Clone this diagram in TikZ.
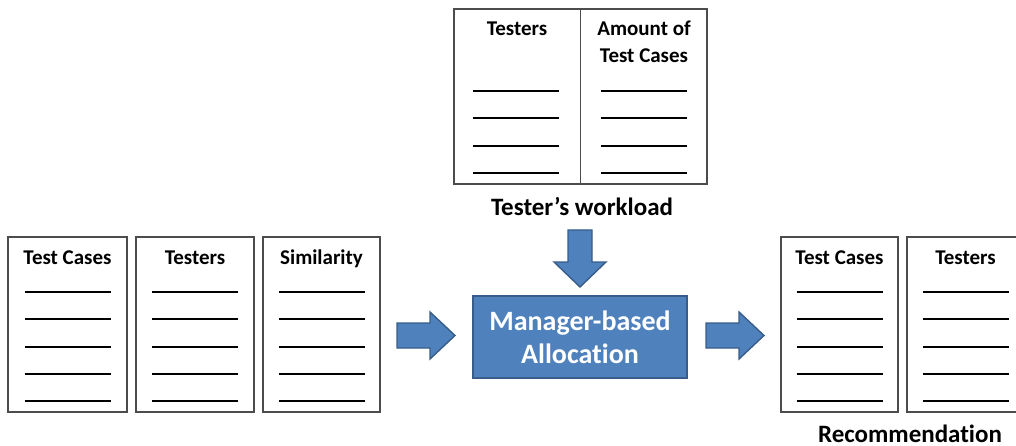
\documentclass[tikz,border=0pt]{standalone}
\usepackage{fontspec}
\setmainfont{Carlito}[Ligatures=NoCommon]
\definecolor{blockfill}{HTML}{4F81BD}
\definecolor{blockedge}{HTML}{385D8A}
\begin{document}
\begin{tikzpicture}[x=1pt,y=-1pt,
  sheet/.style={draw=black!70, line width=1.1pt, fill=white, inner sep=0pt, outer sep=0pt},
  head/.style={font=\bfseries\fontsize{21}{25}\selectfont, anchor=base, inner sep=0pt},
  caption/.style={font=\bfseries\fontsize{25}{30}\selectfont, anchor=base, inner sep=0pt},
  entry/.style={line width=1.8pt, black},
  blockarrow/.style={fill=blockfill, draw=blockedge, line width=1.4pt, line join=miter},
  engine/.style={fill=blockfill, draw=blockedge, line width=2pt, inner sep=0pt,
    minimum width=214pt, minimum height=82pt},
  enginetext/.style={font=\bfseries\fontsize{28}{33}\selectfont, text=white,
    anchor=base, inner sep=0pt}]
\useasboundingbox (0,0) rectangle (1016,446);

% tester's workload table
\node[sheet, minimum width=253pt, minimum height=175pt] (load) at (580.5,96.5) {};
\draw[black!70, line width=1.1pt] (load.north) -- (load.south);
\node[head] (loadtesters) at (517,36) {Testers};
\node[head] (loadamount) at (644,36) {Amount of};
\node[head] (loadcases) at (644,63) {Test Cases};
\foreach \y in {91,118,146,173} {
  \draw[entry] (473,\y) -- (559,\y);
  \draw[entry] (601,\y) -- (687,\y);
}
\node[caption] (loadcap) at (582,215) {Tester’s workload};

% input and output sheets
\foreach \n/\cx/\w/\t in {tc/67.5/119/Test Cases, ts/195/118/Testers, sim/321.5/117/Similarity,
                          rtc/839.5/117/Test Cases, rts/965.5/117/Testers} {
  \node[sheet, minimum width=\w pt, minimum height=175pt] (\n) at (\cx,324.5) {};
  \node[head] (\n-head) at (\cx,264) {\t};
  \foreach \y in {292,319,347,374,401}
    \draw[entry] (\cx-43,\y) -- (\cx+43,\y);
}
\node[caption] (rec) at (910,442) {Recommendation};

% allocation engine
\node[engine] (alloc) at (580,337) {};
\node[enginetext] (alloc1) at (580,330) {Manager-based};
\node[enginetext] (alloc2) at (580,363) {Allocation};

% block arrows
\draw[blockarrow] (568,230) -- (592,230) -- (592,262) -- (606,262) -- (580,287)
  -- (554,262) -- (568,262) -- cycle;
\draw[blockarrow] (397,323) -- (430,323) -- (430,312) -- (455,335.5) -- (430,359)
  -- (430,348) -- (397,348) -- cycle;
\draw[blockarrow] (706,323) -- (739,323) -- (739,312) -- (764,335.5) -- (739,359)
  -- (739,348) -- (706,348) -- cycle;
\end{tikzpicture}
\end{document}
